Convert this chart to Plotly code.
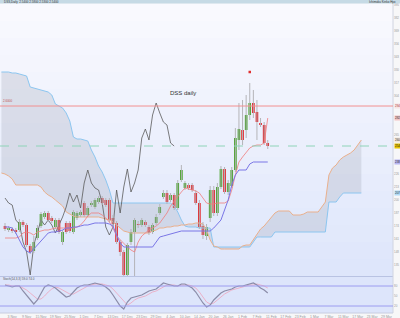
import plotly.graph_objects as go

# ---------------- data ----------------
bar_index = list(range(74))
opens = [174,170,171,170,170,178,175,154,149,162,
         174,183,187,182,173,180,158,177,177,168,
         182,185,197,185,195,193,198,202,200,200,
         182,177,158,148,125,158,168,176,175,178,
         173,168,177,187,203,207,200,205,192,220,
         212,215,215,207,197,174,164,182,210,187,
         213,231,208,214,230,260,270,270,285,297,
         288,277,275,257]
closes = [171,172,169,168,178,175,155,148,158,172,
          186,187,180,179,180,168,168,168,169,188,
          187,188,185,192,197,200,202,197,195,180,
          176,158,148,125,155,168,180,175,180,175,
          167,175,183,193,207,198,205,192,217,230,
          217,212,210,197,173,165,173,210,187,213,
          231,208,217,230,262,271,260,285,297,287,
          278,275,257,254]
highs = [177,174,173,172,181,180,177,156,164,175,
         188,189,189,184,182,182,170,179,179,190,
         189,190,199,194,199,202,204,204,202,202,
         185,179,160,150,157,171,182,179,182,180,
         175,177,186,196,210,210,207,207,220,235,
         219,217,217,210,200,178,176,214,214,217,
         234,233,220,233,272,297,300,305,317,310,
         300,282,278,260]
lows = [169,168,167,166,168,173,153,146,147,160,
        172,181,178,177,171,166,155,166,167,166,
        180,183,183,183,193,191,196,195,193,178,
        174,156,144,124,124,155,124,172,173,173,
        165,166,175,185,201,196,198,190,190,218,
        210,210,208,195,171,161,160,178,184,184,
        211,206,205,212,228,250,255,262,280,282,
        260,273,255,251]

tenkan = [162,162,162,162,163,167,168,167,165,168,
          169,170,170,171,172,172,172,172,172,172,
          173,175,179,184,187,187,187,185,182,178,
          172,164,160,157,153,150,148,158,164,167,
          170,172,174,177,182,187,194,199,204,208,
          212,211,210,209,207,202,197,196,196,197,
          197,197,199,210,225,238,243,248,252,254,
          255,255,257,282]
kijun = [173,173,172,167,160,153,149,147,151,155,
         160,164,167,168,168,169,170,172,172,173,
         173,174,175,175,176,177,177,177,177,176,
         174,165,157,153,153,153,153,153,153,153,
         153,153,158,163,164,165,166,167,168,169,
         169,169,169,169,169,169,169,169,172,176,
         180,190,200,215,225,230,230,230,236,238,
         238,238,238,238]

cloud_index = list(range(-1, 100))
senkou_a = [227,226,224,221,215,215,215,215,215,215,
            215,213,208,205,203,200,197,194,188,186,
            184,183,183,183,183,183,183,183,182,181,
            180,178,175,172,169,168,167,167,167,167,
            167,167,169,170,172,172,173,173,174,174,
            175,175,176,176,177,177,176,170,160,154,
            153,151,151,151,151,151,151,154,155,155,
            160,166,171,174,178,182,187,189,189,189,
            189,185,185,185,186,188,188,188,188,193,
            198,225,232,235,240,243,245,247,250,255,
            260]
senkou_b = [328,328,328,327,327,326,325,324,313,312,
            311,310,309,308,305,296,294,292,287,279,
            263,261,261,260,259,250,243,234,228,220,
            210,197,197,197,197,197,197,197,197,197,
            197,197,197,197,197,197,197,197,194,188,
            180,174,173,173,173,172,172,172,172,153,
            153,153,153,153,153,153,153,153,153,153,
            158,163,163,163,163,163,168,168,168,168,
            168,168,168,168,168,168,168,168,168,168,
            168,198,198,198,203,207,207,207,207,207,
            207]

osc_main = [83,80,77,80,80,65,53,41,26,38,
            59,77,83,80,74,65,56,47,50,62,
            74,80,83,83,86,89,86,83,77,68,
            53,35,20,11,32,44,47,50,53,59,
            65,68,71,80,89,86,83,80,80,86,
            86,80,74,62,44,29,17,23,38,50,
            59,65,68,71,77,80,80,83,86,89,
            83,74,68,59]
osc_signal = [83,83,80,80,80,74,68,59,50,41,
              41,50,62,71,77,74,68,62,56,56,
              62,68,74,80,83,86,86,86,83,80,
              71,59,44,32,23,29,38,44,47,50,
              56,62,65,71,77,83,83,83,80,83,
              83,83,80,74,62,47,32,26,29,38,
              47,56,62,68,71,74,77,80,83,83,
              86,83,80,74]

resistance_level = 294
bid_level = 254
fractal_x = [68]
fractal_y = [328]
chikou_shift = 26

price_ticks = [395, 382, 369, 356, 343, 330, 317, 304, 265, 226, 213, 200, 187, 174, 161, 148, 135]
osc_ticks = [20, 50, 80]

date_tick_index = [2,6,10,14,18,22,26,30,34,38,42,46,50,54,58,62,66,70,74,78,82,86,90,94,98,102,106]
date_tick_labels = ["3 Nov","9 Nov","15 Nov","19 Nov","25 Nov","1 Dec","7 Dec","13 Dec","17 Dec",
                    "23 Dec","29 Dec","4 Jan","10 Jan","14 Jan","20 Jan","26 Jan","1 Feb","7 Feb",
                    "11 Feb","17 Feb","23 Feb","1 Mar","7 Mar","11 Mar","17 Mar","23 Mar","29 Mar"]

# ---------------- figure ----------------
W, H = 400, 318
ML, MR, MT, MB = 0, 7, 4, 5
PH = H - MT - MB
def py(pix):  # pixel row -> paper y
    return (H - MB - pix) / PH
def px(pix):
    return (pix - ML) / (W - ML - MR)

main_dom = [py(276), 1.0]
osc_dom = [0.0, py(277)]
xr = [-1.39, 107.8]

fig = go.Figure()

# background gradient bands (style only)
shapes = []
top_c = (249, 249, 254)
bot_c = (222, 230, 251)
n = 16
for k in range(n):
    t = k / (n - 1)
    c = tuple(int(round(top_c[j] + (bot_c[j] - top_c[j]) * t)) for j in range(3))
    y0 = 4 + (276 - 4) * k / n
    y1 = 4 + (276 - 4) * (k + 1) / n
    shapes.append(dict(type="rect", xref="paper", yref="paper", x0=0, x1=1,
                       y0=py(y1), y1=py(y0), fillcolor="rgb(%d,%d,%d)" % c,
                       line=dict(width=0), layer="below"))
shapes.append(dict(type="rect", xref="paper", yref="paper", x0=0, x1=1,
                   y0=0, y1=py(277), fillcolor="rgb(221,229,251)", line=dict(width=0), layer="below"))
# top bar
shapes.append(dict(type="rect", xref="paper", yref="paper", x0=0, x1=px(400),
                   y0=py(3.5), y1=py(0), fillcolor="#c6dae5", line=dict(width=0)))
# panel separator & borders
shapes.append(dict(type="line", xref="paper", yref="paper", x0=0, x1=1,
                   y0=py(276.5), y1=py(276.5), line=dict(color="#b9c3e3", width=1)))
shapes.append(dict(type="line", xref="paper", yref="paper", x0=1, x1=1,
                   y0=0, y1=1, line=dict(color="#d0d4e0", width=1)))
shapes.append(dict(type="line", xref="paper", yref="paper", x0=0, x1=1,
                   y0=0, y1=0, line=dict(color="#c8cde0", width=1)))
# horizontal levels
shapes.append(dict(type="line", xref="paper", yref="y", x0=0, x1=1,
                   y0=resistance_level, y1=resistance_level, line=dict(color="#f29090", width=1)))
shapes.append(dict(type="line", xref="paper", yref="y", x0=0, x1=1,
                   y0=bid_level, y1=bid_level, line=dict(color="#8fd4b8", width=1, dash="dash")))
# oscillator levels
for lv in (80, 20):
    shapes.append(dict(type="line", xref="paper", yref="y2", x0=0, x1=1,
                       y0=lv, y1=lv, line=dict(color="#9c9cf0", width=1)))

# cloud
fig.add_trace(go.Scatter(x=cloud_index, y=senkou_b, mode="lines",
                         line=dict(color="#8cc6f0", width=1), xaxis="x", yaxis="y",
                         hoverinfo="skip", showlegend=False))
fig.add_trace(go.Scatter(x=cloud_index, y=senkou_a, mode="lines",
                         line=dict(color="#eab08c", width=1), fill="tonexty",
                         fillcolor="rgba(150,155,172,0.24)", xaxis="x", yaxis="y",
                         hoverinfo="skip", showlegend=False))

# chikou (closes drawn shifted back)
fig.add_trace(go.Scatter(x=[i - chikou_shift for i in bar_index[chikou_shift:]],
                         y=closes[chikou_shift:], mode="lines",
                         line=dict(color="#5a5a5a", width=0.8), xaxis="x", yaxis="y",
                         hoverinfo="skip", showlegend=False))

# wicks
wx, wy = [], []
for i, h, l in zip(bar_index, highs, lows):
    wx += [i, i, None]
    wy += [l, h, None]
fig.add_trace(go.Scatter(x=wx, y=wy, mode="lines", line=dict(color="#b4b4b8", width=1),
                         xaxis="x", yaxis="y", hoverinfo="skip", showlegend=False))

# bodies
base = [min(o, c) for o, c in zip(opens, closes)]
height = [max(abs(c - o), 1) for o, c in zip(opens, closes)]
colors = ["#3c9e1c" if c > o else "#e3171c" for o, c in zip(opens, closes)]
fig.add_trace(go.Bar(x=bar_index, y=height, base=base, width=0.72,
                     marker=dict(color=colors, line=dict(width=0)),
                     xaxis="x", yaxis="y", hoverinfo="skip", showlegend=False))

# tenkan / kijun
fig.add_trace(go.Scatter(x=bar_index, y=tenkan, mode="lines",
                         line=dict(color="#f07c7c", width=0.8), xaxis="x", yaxis="y",
                         hoverinfo="skip", showlegend=False))
fig.add_trace(go.Scatter(x=bar_index, y=kijun, mode="lines",
                         line=dict(color="#7a76e6", width=1), xaxis="x", yaxis="y",
                         hoverinfo="skip", showlegend=False))

fig.add_trace(go.Scatter(x=fractal_x, y=fractal_y, mode="markers",
                         marker=dict(color="#e03030", size=2.5, symbol="square"),
                         xaxis="x", yaxis="y", hoverinfo="skip", showlegend=False))

# oscillator
fig.add_trace(go.Scatter(x=bar_index, y=osc_signal, mode="lines",
                         line=dict(color="#eea3bb", width=0.8), xaxis="x2", yaxis="y2",
                         hoverinfo="skip", showlegend=False))
fig.add_trace(go.Scatter(x=bar_index, y=osc_main, mode="lines",
                         line=dict(color="#8b8ca8", width=1.2), xaxis="x2", yaxis="y2",
                         hoverinfo="skip", showlegend=False))

# annotations
ann = []
ann.append(dict(x=49.5, y=307, xref="x", yref="y", text="DSS daily", showarrow=False,
                font=dict(size=6, color="#333333"), xanchor="center", yanchor="middle"))
ann.append(dict(x=px(2), y=py(1.7), xref="paper", yref="paper",
                text="DSS,Daily  2.5400 2.5800 2.5300 2.5400", showarrow=False,
                font=dict(size=3, color="#333"), xanchor="left", yanchor="middle"))
ann.append(dict(x=px(398), y=py(1.7), xref="paper", yref="paper",
                text="Ichimoku Kinko Hyo", showarrow=False,
                font=dict(size=3, color="#333"), xanchor="right", yanchor="middle"))
ann.append(dict(x=px(1), y=resistance_level + 1.5, xref="paper", yref="y", text="2.6000",
                showarrow=False, font=dict(size=3, color="#c05050"), xanchor="left", yanchor="bottom"))
ann.append(dict(x=px(1), y=py(279), xref="paper", yref="paper", text="Stoch(14,3,3) 59.0 74.0",
                showarrow=False, font=dict(size=3, color="#555"), xanchor="left", yanchor="middle"))
tags = [(resistance_level, "#f6e4e4", "#b04040"), (tenkan[-1], "#f3c4c4", "#333"),
        (senkou_a[-1], "#f3e7d8", "#333"), (closes[-1], "#e8c400", "#222"),
        (kijun[-1], "#b8b6f2", "#333"), (senkou_b[-1], "#b0dbf7", "#333")]
for v, bg, fc in tags:
    ann.append(dict(x=px(393.5), y=v, xref="paper", yref="y", text="%d" % v, showarrow=False,
                    font=dict(size=3, color=fc), bgcolor=bg, borderpad=0,
                    xanchor="left", yanchor="middle"))

fig.update_layout(
    width=W, height=H, autosize=False,
    margin=dict(l=ML, r=MR, t=MT, b=MB, pad=0),
    paper_bgcolor="#f7f7f8", plot_bgcolor="rgba(0,0,0,0)",
    font=dict(family="Liberation Sans, Arial, sans-serif", size=4, color="#888"),
    shapes=shapes, annotations=ann, showlegend=False, barmode="overlay",
    xaxis=dict(domain=[0, 1], range=xr, anchor="y", showticklabels=False, showgrid=False,
               zeroline=False, fixedrange=True),
    yaxis=dict(domain=main_dom, range=[124, 396], side="right", showgrid=False, zeroline=False,
               tickvals=price_ticks, tickfont=dict(size=3, color="#999"), ticks="",
               anchor="x"),
    xaxis2=dict(domain=[0, 1], range=xr, anchor="y2", showgrid=False, zeroline=False,
                tickvals=date_tick_index, ticktext=date_tick_labels, ticks="",
                tickfont=dict(size=3.5, color="#999")),
    yaxis2=dict(domain=osc_dom, range=[-1, 107], side="right", showgrid=False, zeroline=False,
                tickvals=osc_ticks, tickfont=dict(size=3, color="#999"), ticks="",
                anchor="x2"),
)

fig.write_html("out.html")
